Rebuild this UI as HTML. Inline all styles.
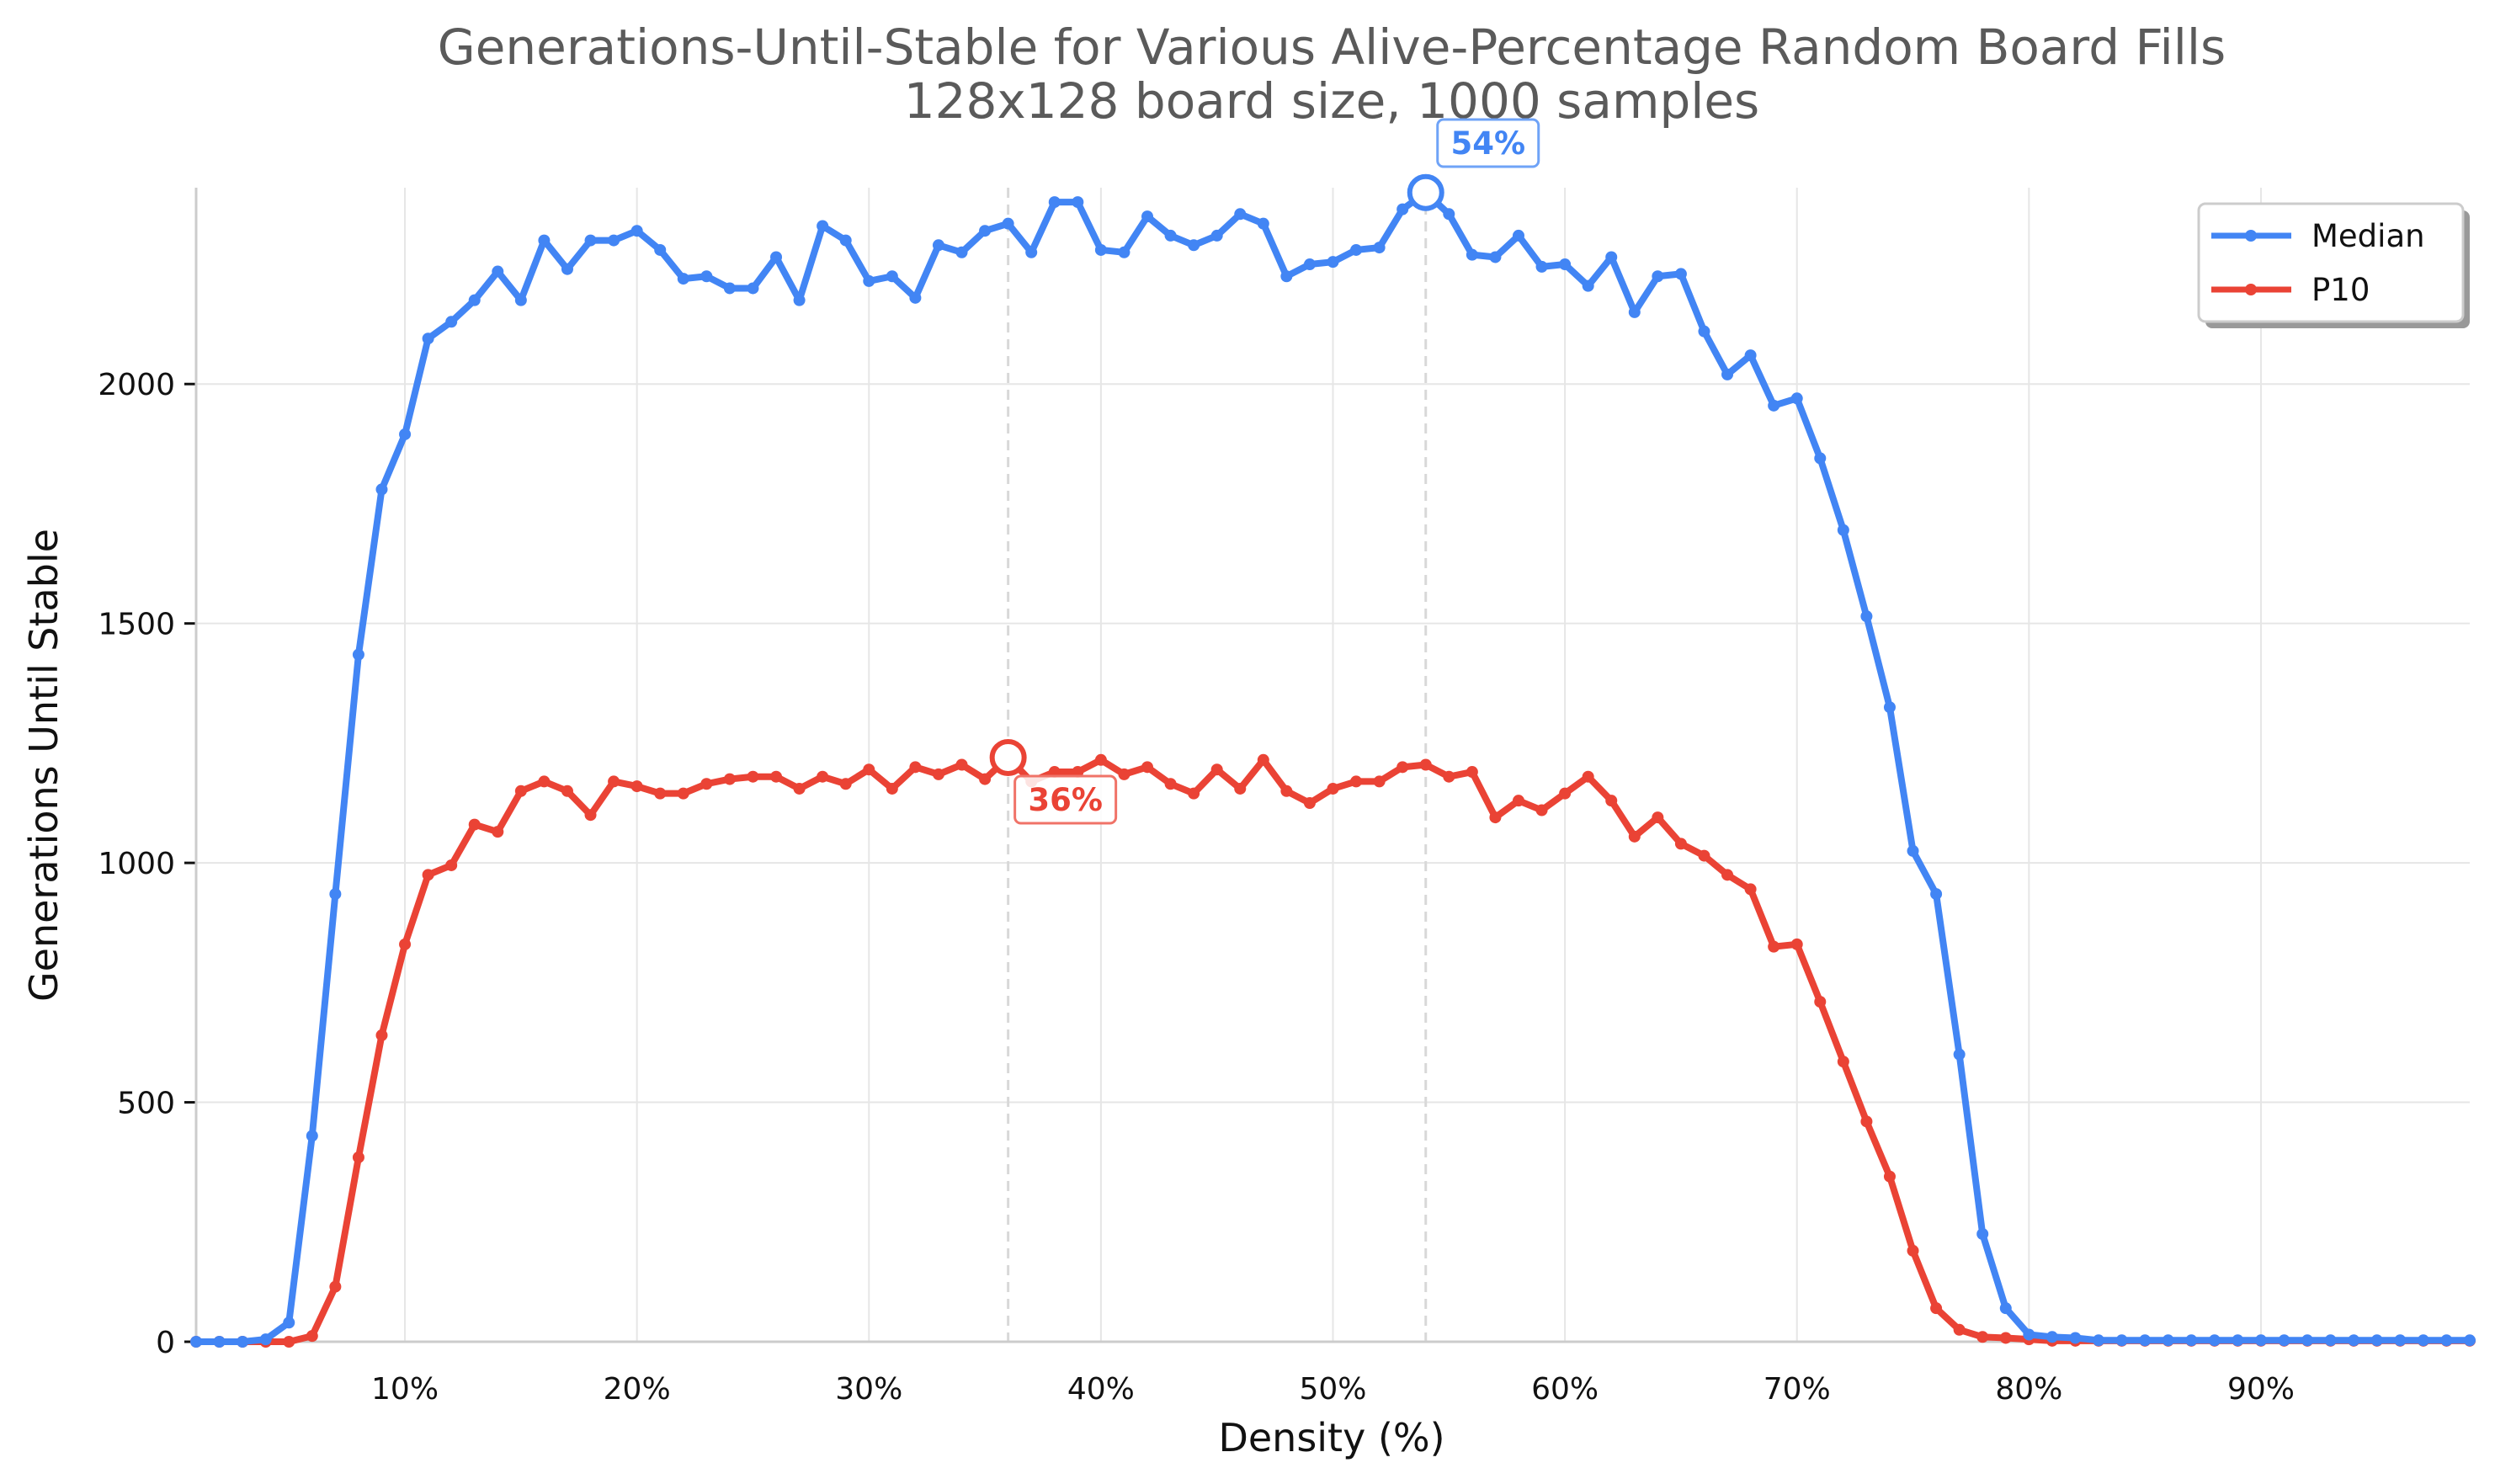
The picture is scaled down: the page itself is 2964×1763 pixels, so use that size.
<!DOCTYPE html>
<html><head><meta charset="utf-8"><style>
html,body{margin:0;padding:0;background:#fff;}
svg{display:block;font-family:"DejaVu Sans","Liberation Sans",sans-serif;}
</style></head><body>
<svg id="chart" width="2964" height="1763" viewBox="0 0 2964 1763" xmlns="http://www.w3.org/2000/svg">
<rect width="2964" height="1763" fill="#fff"/>
<text x="1582" y="76" text-anchor="middle" font-size="58" fill="#5a5a5a">Generations-Until-Stable for Various Alive-Percentage Random Board Fills</text>
<text x="1582" y="140" text-anchor="middle" font-size="58" fill="#5a5a5a">128x128 board size, 1000 samples</text>
<text x="1582" y="1724" text-anchor="middle" font-size="46" fill="#111">Density (%)</text>
<text x="0" y="0" transform="translate(68,909) rotate(-90)" text-anchor="middle" font-size="46" fill="#111">Generations Until Stable</text>
<g id="grid"></g>
<g id="axes"></g>
<g id="series"></g>
<g id="annot"></g>
<g>
<rect x="2620" y="250" width="314" height="140" rx="8" fill="#999"/>
<rect x="2612" y="242" width="314" height="140" rx="8" fill="#fff" stroke="#ccc" stroke-width="3"/>
<line x1="2627" y1="280" x2="2722" y2="280" stroke="#4285f4" stroke-width="7"/>
<circle cx="2674" cy="280" r="7" fill="#4285f4"/>
<text x="2746" y="293" font-size="37" fill="#111">Median</text>
<line x1="2627" y1="344" x2="2722" y2="344" stroke="#ea4335" stroke-width="7"/>
<circle cx="2674" cy="344" r="7" fill="#ea4335"/>
<text x="2746" y="357" font-size="37" fill="#111">P10</text>
</g>
</svg>
<script>
const densities = [];
for (let d = 1; d <= 99; d++) densities.push(d);
const medianValues = [0,0,0,5,40,430,935,1435,1780,1895,2095,2130,2175,2235,2175,2300,2240,2300,2300,2320,2280,2220,2225,2200,2200,2265,2175,2330,2300,2215,2225,2180,2290,2275,2320,2335,2275,2380,2380,2280,2275,2350,2310,2290,2310,2355,2335,2225,2250,2255,2280,2285,2365,2400,2355,2270,2265,2310,2245,2250,2205,2265,2150,2225,2230,2110,2020,2060,1955,1970,1845,1695,1515,1325,1025,935,600,225,70,15,10,8,3,3,3,3,3,3,3,3,3,3,3,3,3,3,3,3,3];
const p10Values = [0,0,0,0,0,12,115,385,640,830,975,995,1080,1065,1150,1170,1150,1100,1170,1160,1145,1145,1165,1175,1180,1180,1155,1180,1165,1195,1155,1200,1185,1205,1175,1220,1170,1190,1190,1215,1185,1200,1165,1145,1195,1155,1215,1150,1125,1155,1170,1170,1200,1205,1180,1190,1095,1130,1110,1145,1180,1130,1055,1095,1040,1015,975,945,825,830,710,585,460,345,190,70,25,10,8,5,2,2,2,2,2,2,2,2,2,2,2,2,2,2,2,2,2,2,2];
const xTicks = [10,20,30,40,50,60,70,80,90];
const yTicks = [0,500,1000,1500,2000];
const peakMedian = 54;
const peakP10 = 36;

const X0 = 233, X1 = 2934, Y0 = 1594, Y1 = 223;
const xMin = 1, xMax = 99, yMin = 0, yMax = 2410;
const xs = d => X0 + (d - xMin) / (xMax - xMin) * (X1 - X0);
const ys = v => Y0 - (v - yMin) / (yMax - yMin) * (Y0 - Y1);
const NS = "http://www.w3.org/2000/svg";
function mk(tag, attrs, parent) {
  const e = document.createElementNS(NS, tag);
  for (const k in attrs) e.setAttribute(k, attrs[k]);
  parent.appendChild(e);
  return e;
}
const grid = document.getElementById('grid');
const axes = document.getElementById('axes');
const series = document.getElementById('series');
const annot = document.getElementById('annot');

xTicks.forEach(t => {
  const g = mk('line', {x1: xs(t), x2: xs(t), y1: Y1, y2: Y0, stroke: '#e6e6e6', 'stroke-width': 2}, grid);
  
  
  const tx = mk('text', {x: xs(t), y: 1662, 'text-anchor': 'middle', 'font-size': 36, fill: '#111'}, axes);
  tx.textContent = t + '%';
  
  
});
yTicks.forEach(t => {
  const g = mk('line', {x1: X0, x2: X1, y1: ys(t), y2: ys(t), stroke: '#e6e6e6', 'stroke-width': 2}, grid);
  
  
  const tk = mk('line', {x1: X0 - 14, x2: X0, y1: ys(t), y2: ys(t), stroke: '#111', 'stroke-width': 3}, axes);
  
  
  const tx = mk('text', {x: 208, y: ys(t) + 13, 'text-anchor': 'end', 'font-size': 36, fill: '#111'}, axes);
  tx.textContent = t;
  
  
});
const ls = mk('line', {x1: X0, x2: X0, y1: Y1, y2: Y0, stroke: '#ccc', 'stroke-width': 3}, axes);


const bs = mk('line', {x1: X0, x2: X1, y1: Y0, y2: Y0, stroke: '#ccc', 'stroke-width': 3}, axes);



[peakP10, peakMedian].forEach(p => {
  const v = mk('line', {x1: xs(p), x2: xs(p), y1: Y1, y2: Y0, stroke: '#d8d8d8', 'stroke-width': 3, 'stroke-dasharray': '12,8'}, grid);
  
  
});

function drawSeries(vals, color, name) {
  const pts = densities.map((d, i) => xs(d) + ',' + ys(vals[i])).join(' ');
  const pl = mk('polyline', {points: pts, fill: 'none', stroke: color, 'stroke-width': 8, 'stroke-linejoin': 'round'}, series);
  
  
  densities.forEach((d, i) => {
    const c = mk('circle', {cx: xs(d), cy: ys(vals[i]), r: 7, fill: color}, series);
    
    
  });
}
drawSeries(p10Values, '#ea4335', 'p10');
drawSeries(medianValues, '#4285f4', 'median');

const cm = mk('circle', {cx: xs(peakMedian), cy: ys(medianValues[peakMedian - 1]), r: 19, fill: '#fff', stroke: '#4285f4', 'stroke-width': 6}, annot);


const cp = mk('circle', {cx: xs(peakP10), cy: ys(p10Values[peakP10 - 1]), r: 19, fill: '#fff', stroke: '#ea4335', 'stroke-width': 6}, annot);



const bm = mk('rect', {x: xs(peakMedian) + 14, y: 142, width: 120, height: 56, rx: 7, fill: '#fff', stroke: '#6fa3f7', 'stroke-width': 3}, annot);


const tm = mk('text', {x: xs(peakMedian) + 74, y: 183, 'text-anchor': 'middle', 'font-size': 37, 'font-weight': 'bold', fill: '#4285f4'}, annot);
tm.textContent = peakMedian + '%';



const bp = mk('rect', {x: xs(peakP10) + 8, y: 922, width: 120, height: 56, rx: 7, fill: 'rgba(255,255,255,0.85)', stroke: '#f07368', 'stroke-width': 3}, annot);


const tp = mk('text', {x: xs(peakP10) + 68, y: 963, 'text-anchor': 'middle', 'font-size': 37, 'font-weight': 'bold', fill: '#ea4335'}, annot);
tp.textContent = peakP10 + '%';


</script>
</body></html>
